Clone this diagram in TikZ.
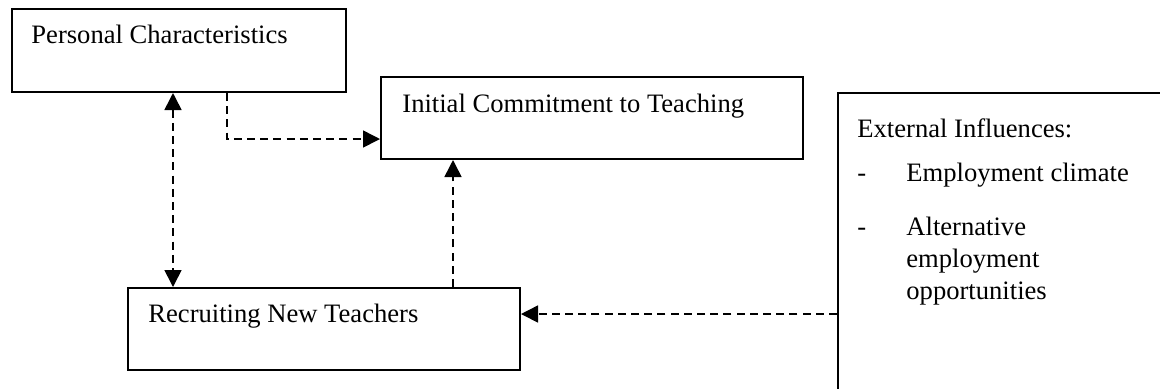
\documentclass[tikz,border=0pt]{standalone}
\usepackage{fontspec}
\setmainfont{Liberation Serif}
\usetikzlibrary{arrows.meta}
\begin{document}
\begin{tikzpicture}[x=0.5pt,y=-0.5pt,
  box/.style={draw,line width=1pt,rectangle,anchor=north west,inner sep=0pt},
  txt/.style={anchor=base west,inner sep=0pt,font=\fontsize{13.3}{16}\selectfont},
  tip/.tip={Triangle[length=8.5pt,width=8.5pt]},
  dar/.style={line width=0.8pt,dash pattern=on 4pt off 2.6pt,-tip},
  ddar/.style={line width=0.8pt,dash pattern=on 4pt off 2.6pt,tip-tip}]
\useasboundingbox (0,0) rectangle (1160,388);
\clip (0,0) rectangle (1160,388);
% boxes
\node[box,minimum width=167pt,minimum height=41.5pt] (pc) at (11,8) {};
\node[box,minimum width=211pt,minimum height=41pt] (ict) at (380,76) {};
\node[box,minimum width=196pt,minimum height=41pt] (rnt) at (127,287) {};
\node[box,minimum width=200pt,minimum height=160pt] (ext) at (837,92) {};
% texts
\node[txt] (tpc) at (31,43) {Personal Characteristics};
\node[txt] (tict) at (402,112) {Initial Commitment to Teaching};
\node[txt] (trnt) at (148,322) {Recruiting New Teachers};
\node[txt] (text) at (857,137) {External Influences:};
\node[txt] (d1) at (857,181) {-};
\node[txt] (e1) at (906,181) {Employment climate};
\node[txt] (d2) at (857,235) {-};
\node[txt] (e2a) at (906,235) {Alternative};
\node[txt] (e2b) at (906,267) {employment};
\node[txt] (e2c) at (906,299) {opportunities};
% helper coordinates
\coordinate (xa) at (173,0);
\coordinate (xb) at (227,0);
\coordinate (yb) at (0,139);
\coordinate (xc) at (453,0);
\coordinate (yd) at (0,314);
% connectors
\draw[ddar] (pc.south -| xa) -- (rnt.north -| xa);
\draw[dar] (pc.south -| xb) |- (ict.west |- yb);
\draw[dar] (rnt.north -| xc) -- (ict.south -| xc);
\draw[dar] (ext.west |- yd) -- (rnt.east |- yd);
\end{tikzpicture}
\end{document}
